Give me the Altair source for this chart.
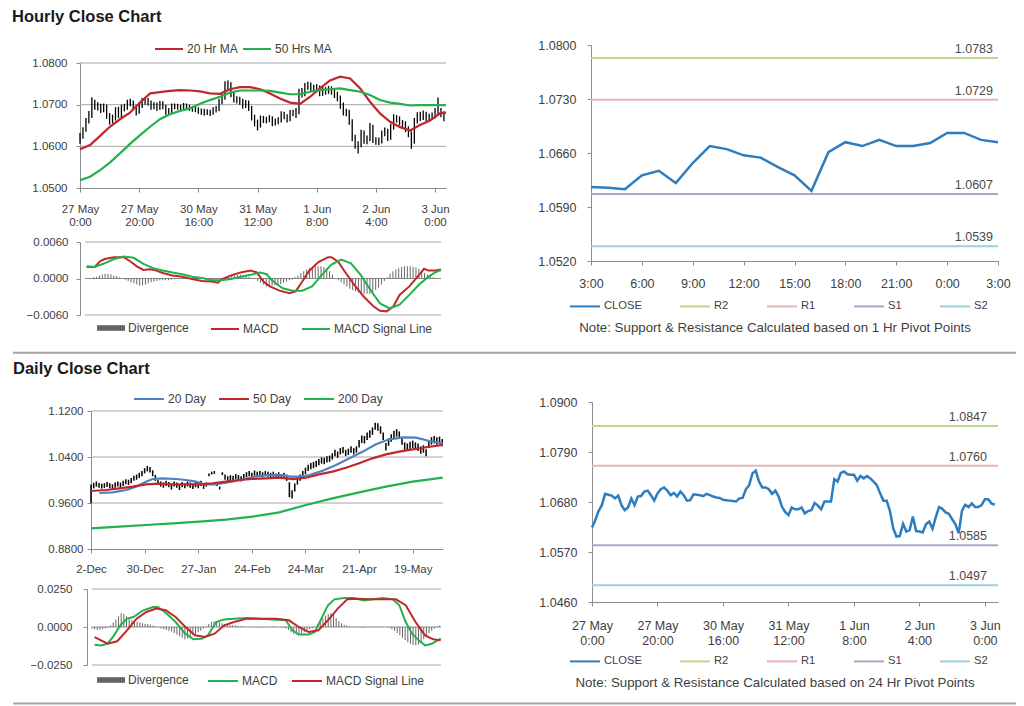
import json
import altair as alt
import pandas as pd

FONT = "Liberation Sans"
TXT = "#404040"
AXC = "#8c8c8c"
GRID = "#a6a6a6"
RED = "#c0272d"
GREEN = "#22b14c"
BLUE = "#4f81bd"
LINE_BLUE = "#2e7dbf"
R2_C, R1_C, S1_C, S2_C = "#bcd58f", "#e8b4b4", "#b3a2c7", "#9ad0df"
DIV_C = "#666666"
SEP_C = "#a5a5a5"
DIV_SHAPE = "M-1,-0.2H1V0.2H-1Z"

W, H = 1008, 697

# ---------------- hourly data (27 May 0:00 -> 3 Jun 3:00) ----------------
hourly_close = [
    1.0624, 1.0640, 1.0660, 1.0673, 1.0698, 1.0696, 1.0694, 1.0688, 1.0694, 1.0673,
    1.0662, 1.0668, 1.0688, 1.0673, 1.0692, 1.0693, 1.0703, 1.0705, 1.0695, 1.0683,
    1.0699, 1.0708, 1.0712, 1.0705, 1.0695, 1.0700, 1.0692, 1.0703, 1.0695, 1.0683,
    1.0684, 1.0697, 1.0696, 1.0695, 1.0693, 1.0698, 1.0695, 1.0692, 1.0690, 1.0689,
    1.0685, 1.0684, 1.0683, 1.0682, 1.0681, 1.0688, 1.0689, 1.0708, 1.0717, 1.0743,
    1.0749, 1.0725, 1.0712, 1.0712, 1.0708, 1.0698, 1.0705, 1.0692, 1.0670, 1.0658,
    1.0651, 1.0668, 1.0664, 1.0664, 1.0668, 1.0655, 1.0660, 1.0662, 1.0678, 1.0672,
    1.0664, 1.0681, 1.0681, 1.0681, 1.0730, 1.0725, 1.0744, 1.0747, 1.0741, 1.0740,
    1.0740, 1.0727, 1.0737, 1.0732, 1.0737, 1.0732, 1.0725, 1.0717, 1.0699, 1.0683,
    1.0683, 1.0660, 1.0622, 1.0604, 1.0605, 1.0632, 1.0615, 1.0618, 1.0648, 1.0616,
    1.0615, 1.0613, 1.0631, 1.0637, 1.0621, 1.0647, 1.0669, 1.0665, 1.0657, 1.0654,
    1.0642, 1.0631, 1.0611, 1.0661, 1.0674, 1.0669, 1.0677, 1.0669, 1.0669, 1.0673,
    1.0686, 1.0686, 1.0677, 1.0674,
]
hourly_low = [
    1.0606, 1.0618, 1.0635, 1.0655, 1.0668, 1.0688, 1.0686, 1.0680, 1.0682, 1.0666,
    1.0652, 1.0655, 1.0662, 1.0668, 1.0668, 1.0684, 1.0688, 1.0696, 1.0689, 1.0674,
    1.0678, 1.0692, 1.0700, 1.0698, 1.0688, 1.0689, 1.0685, 1.0688, 1.0689, 1.0676,
    1.0677, 1.0680, 1.0689, 1.0688, 1.0686, 1.0688, 1.0689, 1.0685, 1.0683, 1.0682,
    1.0678, 1.0676, 1.0674, 1.0675, 1.0673, 1.0676, 1.0681, 1.0684, 1.0701, 1.0712,
    1.0733, 1.0718, 1.0705, 1.0703, 1.0700, 1.0690, 1.0692, 1.0685, 1.0662, 1.0648,
    1.0638, 1.0645, 1.0656, 1.0655, 1.0658, 1.0648, 1.0650, 1.0653, 1.0657, 1.0665,
    1.0657, 1.0660, 1.0672, 1.0668, 1.0677, 1.0717, 1.0720, 1.0736, 1.0733, 1.0731,
    1.0730, 1.0720, 1.0721, 1.0724, 1.0726, 1.0724, 1.0716, 1.0708, 1.0690, 1.0674,
    1.0672, 1.0652, 1.0612, 1.0594, 1.0583, 1.0598, 1.0606, 1.0605, 1.0612, 1.0608,
    1.0604, 1.0603, 1.0607, 1.0624, 1.0613, 1.0616, 1.0640, 1.0657, 1.0650, 1.0645,
    1.0634, 1.0622, 1.0594, 1.0606, 1.0655, 1.0661, 1.0663, 1.0661, 1.0660, 1.0664,
    1.0667, 1.0677, 1.0670, 1.0660,
]
hourly_high = [
    1.0632, 1.0646, 1.0668, 1.0685, 1.0718, 1.0712, 1.0706, 1.0702, 1.0703, 1.0700,
    1.0680, 1.0676, 1.0694, 1.0695, 1.0700, 1.0702, 1.0712, 1.0714, 1.0710, 1.0700,
    1.0706, 1.0716, 1.0718, 1.0716, 1.0710, 1.0706, 1.0705, 1.0709, 1.0708, 1.0700,
    1.0692, 1.0703, 1.0703, 1.0702, 1.0700, 1.0704, 1.0703, 1.0700, 1.0697, 1.0696,
    1.0694, 1.0691, 1.0690, 1.0689, 1.0688, 1.0694, 1.0697, 1.0714, 1.0728, 1.0756,
    1.0758, 1.0754, 1.0732, 1.0720, 1.0719, 1.0714, 1.0711, 1.0710, 1.0697, 1.0676,
    1.0664, 1.0674, 1.0673, 1.0671, 1.0675, 1.0672, 1.0667, 1.0670, 1.0684, 1.0683,
    1.0677, 1.0687, 1.0688, 1.0692, 1.0738, 1.0740, 1.0752, 1.0755, 1.0753, 1.0748,
    1.0749, 1.0746, 1.0744, 1.0742, 1.0745, 1.0744, 1.0738, 1.0731, 1.0722, 1.0705,
    1.0690, 1.0688, 1.0665, 1.0628, 1.0612, 1.0640, 1.0638, 1.0626, 1.0656, 1.0652,
    1.0622, 1.0621, 1.0638, 1.0645, 1.0642, 1.0654, 1.0677, 1.0675, 1.0672, 1.0663,
    1.0660, 1.0648, 1.0636, 1.0668, 1.0682, 1.0683, 1.0686, 1.0683, 1.0678, 1.0681,
    1.0692, 1.0717, 1.0692, 1.0684,
]
hr_tick_pos = [0, 20, 40, 60, 80, 100, 120]
hr_tick_day = ["27 May", "27 May", "30 May", "31 May", "1 Jun", "2 Jun", "3 Jun"]
hr_tick_time = ["0:00", "20:00", "16:00", "12:00", "8:00", "4:00", "0:00"]

ma_hr_x = [0, 3.4, 6.8, 10.1, 13.5, 16.9, 20.3, 23.7, 27.0, 30.4, 33.8, 37.2, 40.6,
           43.9, 47.3, 50.7, 54.1, 57.5, 60.9, 64.2, 67.6, 71.0, 74.4, 77.8, 81.1,
           84.5, 87.9, 91.3, 94.7, 98.0, 101.4, 104.8, 108.2, 111.6, 114.9, 118.3,
           121.7, 123.7]
ma20_hr = [1.0593, 1.0603, 1.0625, 1.0647, 1.0665, 1.0681, 1.0705, 1.0727, 1.0730,
           1.0733, 1.0735, 1.0734, 1.0732, 1.0727, 1.0726, 1.0737, 1.0742, 1.0742,
           1.0737, 1.0727, 1.0715, 1.0705, 1.0702, 1.0719, 1.0739, 1.0758, 1.0767,
           1.0763, 1.0739, 1.0707, 1.0679, 1.0659, 1.0646, 1.0638, 1.0651, 1.0662,
           1.0679, 1.0681]
ma50_hr = [1.0519, 1.0527, 1.0543, 1.0561, 1.0583, 1.0606, 1.0627, 1.0647, 1.0665,
           1.0677, 1.0685, 1.0691, 1.0702, 1.0711, 1.0719, 1.0729, 1.0734, 1.0734,
           1.0734, 1.0733, 1.0729, 1.0725, 1.0725, 1.0731, 1.0735, 1.0737, 1.0739,
           1.0735, 1.0731, 1.0723, 1.0711, 1.0705, 1.0702, 1.0698, 1.0699, 1.0699,
           1.0699, 1.0699]

macd_hr_x = [0.6, 3.4, 5.1, 6.8, 10.1, 13.5, 15.8, 18.0, 20.3, 22.5, 24.8, 27.0, 30.4,
             33.8, 37.2, 40.6, 43.9, 46.2, 47.3, 50.7, 54.1, 57.5, 59.7, 62.0, 64.2,
             67.6, 71.0, 73.2, 75.5, 77.8, 81.1, 84.5, 85.6, 87.9, 90.2, 93.5, 96.9,
             100.3, 102.5, 104.8, 107.1, 109.3, 112.7, 116.1, 117.8, 119.4, 121.7, 123.7]
macd_hr = [0.0019, 0.0019, 0.0028, 0.0032, 0.0035, 0.0035, 0.0028, 0.0020, 0.0014,
           0.0015, 0.0013, 0.0009, 0.0005, 0.0003, -0.0001, -0.0004, -0.0005, -0.0007,
           -0.0002, 0.0005, 0.0010, 0.0013, 0.0010, -0.0005, -0.0013, -0.0020, -0.0024,
           -0.0021, -0.0005, 0.0012, 0.0027, 0.0035, 0.0035, 0.0028, 0.0012, -0.0010,
           -0.0030, -0.0046, -0.0053, -0.0054, -0.0046, -0.0027, -0.0013, 0.0006,
           0.0016, 0.0013, 0.0013, 0.0015]
signal_hr_x = [0.6, 3.4, 6.8, 10.1, 13.5, 16.9, 20.3, 23.7, 27.0, 30.4, 33.8, 37.2,
               40.6, 43.9, 47.3, 50.7, 54.1, 57.5, 60.9, 63.1, 65.4, 68.7, 72.1, 75.5,
               78.9, 82.3, 85.6, 89.0, 92.4, 95.8, 99.2, 102.5, 105.9, 109.3, 112.7,
               116.1, 119.4, 121.7, 123.7]
signal_hr = [0.0020, 0.0019, 0.0025, 0.0032, 0.0036, 0.0034, 0.0024, 0.0017, 0.0013,
             0.0010, 0.0007, 0.0003, 0.0001, -0.0003, -0.0003, -0.0001, 0.0003, 0.0006,
             0.0010, 0.0007, -0.0005, -0.0016, -0.0020, -0.0020, -0.0013, 0.0006,
             0.0023, 0.0031, 0.0025, 0.0006, -0.0019, -0.0041, -0.0049, -0.0043,
             -0.0027, -0.0010, 0.0003, 0.0010, 0.0014]
div_hr = [
    0.0000, 0.0000, 0.0001, 0.0002, 0.0003, 0.0005, 0.0007, 0.0008, 0.0008, 0.0007,
    0.0005, 0.0004, 0.0002, 0.0000, -0.0002, -0.0004, -0.0006, -0.0008, -0.0010, -0.0012,
    -0.0011, -0.0010, -0.0008, -0.0006, -0.0005, -0.0004, -0.0003, -0.0003, -0.0003, -0.0003,
    -0.0002, -0.0001, 0.0000, 0.0001, 0.0001, 0.0001, 0.0000, -0.0001, 0.0000, 0.0001,
    0.0000, -0.0001, -0.0002, -0.0003, -0.0003, -0.0003, -0.0002, 0.0000, 0.0001, 0.0003,
    0.0004, 0.0005, 0.0005, 0.0006, 0.0006, 0.0005, 0.0004, 0.0003, 0.0001, -0.0001,
    -0.0004, -0.0007, -0.0010, -0.0013, -0.0013, -0.0012, -0.0011, -0.0010, -0.0009, -0.0007,
    -0.0005, -0.0003, -0.0002, 0.0002, 0.0005, 0.0009, 0.0012, 0.0015, 0.0017, 0.0019,
    0.0020, 0.0020, 0.0020, 0.0019, 0.0017, 0.0012, 0.0006, 0.0001, -0.0003, -0.0006,
    -0.0010, -0.0013, -0.0017, -0.0019, -0.0021, -0.0023, -0.0024, -0.0025, -0.0025, -0.0025,
    -0.0023, -0.0019, -0.0015, -0.0010, -0.0004, 0.0002, 0.0008, 0.0012, 0.0015, 0.0017,
    0.0019, 0.0020, 0.0020, 0.0020, 0.0019, 0.0018, 0.0016, 0.0012, 0.0009, 0.0006,
    0.0004, 0.0002, 0.0001, 0.0000,
]

# 1 Hr pivot chart (last 25 hours) and levels
pivot_close = hourly_close[99:]
pivot_tick_pos = [0, 3, 6, 9, 12, 15, 18, 21, 24]
pivot_tick_lab = ["3:00", "6:00", "9:00", "12:00", "15:00", "18:00", "21:00", "0:00", "3:00"]
sr_names = ["R2", "R1", "S1", "S2"]
sr_hourly = [1.0783, 1.0729, 1.0607, 1.0539]
sr_daily = [1.0847, 1.0760, 1.0585, 1.0497]

# ---------------- daily data (2-Dec -> 3-Jun) ----------------
daily_low = [
    0.9595, 0.9855, 0.9885, 0.9865, 0.9850, 0.9860, 0.9880, 0.9860, 0.9840, 0.9865,
    0.9885, 0.9865, 0.9895, 0.9925, 0.9915, 0.9945, 0.9985, 1.0005, 1.0035, 1.0065,
    1.0115, 1.0150, 1.0130, 1.0065, 0.9985, 0.9915, 0.9885, 0.9865, 0.9895, 0.9875,
    0.9835, 0.9885, 0.9865, 0.9825, 0.9875, 0.9855, 0.9885, 0.9865, 0.9845, 0.9875,
    0.9855, 0.9895, 0.9845, 0.9885, 1.0065, 1.0095, 1.0105, 0.9895, 0.9835, 1.0085,
    1.0005, 0.9975, 0.9995, 0.9985, 1.0015, 0.9995, 0.9975, 1.0015, 1.0045, 1.0065,
    1.0035, 1.0075, 1.0055, 1.0065, 1.0045, 1.0065, 1.0055, 1.0035, 1.0055, 1.0025,
    1.0045, 1.0015, 1.0035, 0.9985, 0.9700, 0.9680, 0.9800, 0.9920, 0.9985, 1.0045,
    1.0105, 1.0155, 1.0185, 1.0205, 1.0225, 1.0255, 1.0285, 1.0275, 1.0305, 1.0315,
    1.0355, 1.0415, 1.0385, 1.0445, 1.0465, 1.0415, 1.0435, 1.0475, 1.0445, 1.0475,
    1.0565, 1.0645, 1.0635, 1.0695, 1.0735, 1.0785, 1.0875, 1.0855, 1.0805, 1.0695,
    1.0515, 1.0595, 1.0665, 1.0725, 1.0755, 1.0715, 1.0615, 1.0525, 1.0505, 1.0535,
    1.0555, 1.0525, 1.0505, 1.0455, 1.0475, 1.0415, 1.0555, 1.0615, 1.0635, 1.0615,
    1.0625, 1.0585,
]
daily_high = [
    0.9920, 0.9950, 0.9975, 0.9950, 0.9935, 0.9945, 0.9965, 0.9945, 0.9925, 0.9955,
    0.9975, 0.9955, 0.9985, 1.0015, 1.0005, 1.0035, 1.0075, 1.0095, 1.0125, 1.0155,
    1.0205, 1.0245, 1.0225, 1.0170, 1.0090, 1.0005, 0.9975, 0.9955, 0.9985, 0.9965,
    0.9925, 0.9975, 0.9955, 0.9915, 0.9965, 0.9945, 0.9975, 0.9955, 0.9935, 0.9965,
    0.9945, 0.9985, 0.9935, 0.9955, 1.0115, 1.0145, 1.0155, 0.9945, 0.9885, 1.0135,
    1.0095, 1.0065, 1.0085, 1.0075, 1.0105, 1.0085, 1.0065, 1.0105, 1.0135, 1.0155,
    1.0125, 1.0165, 1.0145, 1.0155, 1.0135, 1.0155, 1.0145, 1.0125, 1.0145, 1.0115,
    1.0135, 1.0105, 1.0125, 1.0095, 0.9960, 0.9820, 0.9940, 1.0040, 1.0095, 1.0155,
    1.0215, 1.0265, 1.0295, 1.0315, 1.0335, 1.0365, 1.0395, 1.0385, 1.0415, 1.0425,
    1.0465, 1.0525, 1.0495, 1.0555, 1.0575, 1.0525, 1.0545, 1.0585, 1.0555, 1.0585,
    1.0695, 1.0775, 1.0765, 1.0825, 1.0865, 1.0915, 1.0995, 1.0985, 1.0935, 1.0825,
    1.0645, 1.0725, 1.0795, 1.0855, 1.0885, 1.0845, 1.0745, 1.0655, 1.0635, 1.0665,
    1.0685, 1.0655, 1.0635, 1.0585, 1.0605, 1.0535, 1.0685, 1.0745, 1.0765, 1.0745,
    1.0755, 1.0715,
]
day_tick_pos = [0, 20, 40, 60, 80, 100, 120]
day_tick_lab = ["2-Dec", "30-Dec", "27-Jan", "24-Feb", "24-Mar", "21-Apr", "19-May"]

ma20_d_x = [3.1, 8.1, 13.1, 16.8, 20.5, 23.0, 26.7, 31.7, 35.4, 39.2, 42.3, 46.0, 51.0,
            56.0, 61.0, 66.0, 71.0, 74.4, 77.7, 81.5, 86.4, 91.4, 96.4, 101.4, 106.3,
            111.3, 116.3, 121.3, 126.2, 131.2]
ma20_d = [0.9774, 0.9786, 0.9826, 0.9884, 0.9971, 1.0017, 1.0029, 1.0017, 1.0000,
          0.9971, 0.9925, 0.9925, 0.9960, 1.0000, 1.0058, 1.0087, 1.0087, 1.0058,
          1.0058, 1.0087, 1.0162, 1.0261, 1.0377, 1.0494, 1.0621, 1.0708, 1.0742,
          1.0736, 1.0678, 1.0638]
ma50_d_x = [0, 5.6, 10.6, 15.5, 20.5, 25.5, 30.5, 35.4, 40.4, 45.3, 50.4, 55.3, 60.2,
            65.2, 70.2, 75.2, 80.2, 85.1, 90.1, 95.1, 100.0, 105.0, 110.0, 115.0, 120.0,
            125.0, 131.2]
ma50_d = [0.9809, 0.9826, 0.9855, 0.9884, 0.9925, 0.9936, 0.9925, 0.9925, 0.9925,
          0.9942, 0.9971, 1.0000, 1.0017, 1.0029, 1.0040, 1.0017, 1.0040, 1.0098,
          1.0145, 1.0214, 1.0290, 1.0377, 1.0446, 1.0494, 1.0534, 1.0569, 1.0610]
ma200_d_x = [0, 10.6, 20.5, 30.5, 40.4, 50.4, 60.2, 70.2, 80.2, 90.1, 100.0, 110.0,
             120.0, 131.2]
ma200_d = [0.9159, 0.9188, 0.9217, 0.9246, 0.9275, 0.9310, 0.9362, 0.9438, 0.9565,
           0.9681, 0.9786, 0.9884, 0.9971, 1.0040]

macd_d_x = [1.0, 3.4, 5.9, 8.3, 10.7, 13.2, 15.6, 19.3, 23.0, 24.8, 27.8, 31.5, 35.2,
            38.2, 41.3, 43.7, 46.8, 49.8, 53.5, 58.4, 63.2, 68.1, 73.0, 75.5, 77.9,
            81.6, 84.0, 86.4, 88.9, 91.3, 95.0, 98.7, 102.3, 106.0, 109.6, 113.3, 115.8,
            118.2, 120.6, 123.1, 125.5, 128.0, 131.4]
macd_d = [-0.0116, -0.0121, -0.0110, -0.0055, 0.0011, 0.0055, 0.0066, 0.0110, 0.0132,
          0.0132, 0.0094, 0.0033, -0.0044, -0.0081, -0.0077, -0.0055, 0.0033, 0.0050,
          0.0055, 0.0059, 0.0055, 0.0050, 0.0044, -0.0022, -0.0050, -0.0050, -0.0033,
          0.0055, 0.0143, 0.0182, 0.0191, 0.0191, 0.0175, 0.0182, 0.0191, 0.0182,
          0.0143, 0.0033, -0.0044, -0.0088, -0.0121, -0.0110, -0.0077]
signal_d_x = [1.0, 3.4, 5.9, 9.5, 13.2, 16.8, 20.5, 24.2, 27.8, 31.5, 35.2, 38.8, 42.5,
              46.2, 49.8, 53.5, 58.4, 63.2, 69.4, 74.2, 77.9, 81.6, 85.3, 88.9, 92.6,
              96.2, 99.9, 104.8, 109.6, 114.5, 118.2, 121.9, 125.5, 128.6, 131.4]
signal_d = [-0.0066, -0.0088, -0.0110, -0.0094, -0.0022, 0.0055, 0.0099, 0.0121, 0.0110,
            0.0066, 0.0000, -0.0055, -0.0066, -0.0044, 0.0011, 0.0033, 0.0055, 0.0055,
            0.0055, 0.0044, 0.0000, -0.0033, -0.0022, 0.0044, 0.0121, 0.0182, 0.0186,
            0.0182, 0.0182, 0.0182, 0.0143, 0.0033, -0.0055, -0.0081, -0.0088]
div_d = [
    -0.0010, -0.0015, -0.0020, -0.0018, -0.0012, -0.0008, -0.0003, 0.0010, 0.0030, 0.0050,
    0.0070, 0.0090, 0.0085, 0.0070, 0.0055, 0.0045, 0.0040, 0.0035, 0.0030, 0.0025,
    0.0022, 0.0020, 0.0015, 0.0010, 0.0005, 0.0000, -0.0010, -0.0015, -0.0020, -0.0025,
    -0.0030, -0.0040, -0.0050, -0.0060, -0.0070, -0.0080, -0.0075, -0.0065, -0.0055, -0.0045,
    -0.0035, -0.0025, -0.0010, 0.0005, 0.0020, 0.0035, 0.0040, 0.0035, 0.0030, 0.0025,
    0.0020, 0.0018, 0.0015, 0.0012, 0.0010, 0.0008, 0.0005, 0.0003, 0.0002, 0.0000,
    -0.0002, -0.0003, -0.0002, -0.0002, -0.0003, -0.0002, 0.0000, 0.0002, 0.0003, 0.0002,
    0.0000, -0.0003, -0.0005, -0.0010, -0.0020, -0.0035, -0.0045, -0.0050, -0.0050, -0.0045,
    -0.0035, -0.0025, -0.0015, -0.0008, 0.0005, 0.0020, 0.0040, 0.0060, 0.0075, 0.0085,
    0.0090, 0.0080, 0.0060, 0.0040, 0.0025, 0.0015, 0.0010, 0.0005, 0.0003, 0.0002,
    0.0000, -0.0003, -0.0005, -0.0003, 0.0000, 0.0002, 0.0003, 0.0002, 0.0003, 0.0002,
    0.0000, -0.0002, -0.0005, -0.0015, -0.0025, -0.0040, -0.0055, -0.0070, -0.0085, -0.0100,
    -0.0110, -0.0118, -0.0120, -0.0115, -0.0100, -0.0080, -0.0060, -0.0040, -0.0025, -0.0010,
    0.0005, 0.0010,
]

# ---------------- helpers ----------------
def y_axis(vals, off, size, pad):
    return alt.Axis(orient="left", offset=off, values=vals, format=".4f", title=None,
                    grid=False, domainColor=AXC, tickColor=AXC, tickSize=4,
                    labelPadding=pad, labelFont=FONT, labelFontSize=size,
                    labelColor=TXT, labelOverlap=False, labelFlush=False)


def x_axis(vals, labels, off, size, pad, lh):
    expr = f"{json.dumps(labels)}[indexof({json.dumps(vals)}, datum.value)]"
    return alt.Axis(orient="bottom", offset=off, values=vals, labelExpr=expr, title=None,
                    grid=False, domainColor=AXC, tickColor=AXC, tickSize=4,
                    labelPadding=pad, labelFont=FONT, labelFontSize=size,
                    labelColor=TXT, labelOverlap=False, labelFlush=False,
                    labelLineHeight=lh, labelAlign="center")


def ex(P, field=None, datum=None):
    sc = alt.Scale(domain=P["xd"], range=P["xr"], nice=False, zero=False)
    if datum is not None:
        return alt.X(datum=datum, type="quantitative", scale=sc, axis=P["xa"])
    return alt.X(field, type="quantitative", scale=sc, axis=P["xa"])


def ey(P, field):
    sc = alt.Scale(domain=P["yd"], range=P["yr"], nice=False, zero=False)
    return alt.Y(field, type="quantitative", scale=sc, axis=P["ya"])


def grid_layer(P, vals, color=GRID):
    df = pd.DataFrame({"g": vals})
    return alt.Chart(df).mark_rule(color=color, strokeWidth=1).encode(
        x=ex(P, datum=P["xd"][0]), x2=alt.X2(datum=P["xd"][1]), y=ey(P, "g"))


def leg(x, y, size=12, sym=784, pad=10, shape="stroke", sw=2.0, off=3):
    return alt.Legend(orient="none", legendX=x, legendY=y, direction="horizontal",
                      title=None, symbolType=shape, symbolSize=sym,
                      symbolStrokeWidth=sw, labelFont=FONT, labelFontSize=size,
                      labelColor=TXT, labelOffset=off, columnPadding=pad, padding=0)


def txt(s, x, y, size, weight="normal", align="left", color=TXT):
    return alt.Chart(alt.Data(values=[{"t": s}])).mark_text(
        font=FONT, fontSize=size, fontWeight=weight, align=align, baseline="middle",
        color=color).encode(x=alt.value(x), y=alt.value(y), text="t:N")


def sep(y):
    return alt.Chart(alt.Data(values=[{"a": 1}])).mark_rule(
        color=SEP_C, strokeWidth=2).encode(x=alt.value(5), x2=alt.value(W), y=alt.value(y))


hr_labels = [[d, t] for d, t in zip(hr_tick_day, hr_tick_time)]

P1 = dict(xd=[0, 123.7], xr=[72, 438], yd=[1.05, 1.08], yr=[180, 55],
          xa=x_axis(hr_tick_pos, hr_labels, -(H - 180), 11.5, 11, 13.5),
          ya=y_axis([1.05, 1.06, 1.07, 1.08], -72, 11.5, 9))
P2 = dict(xd=[0, 123.7], xr=[72, 438], yd=[-0.006, 0.006], yr=[307, 234],
          xa=None, ya=y_axis([-0.006, 0.0, 0.006], -72, 11.5, 8))
P3 = dict(xd=[0, 24], xr=[583, 990], yd=[1.052, 1.080], yr=[253, 37],
          xa=x_axis(pivot_tick_pos, pivot_tick_lab, -(H - 253), 12.5, 12, 15),
          ya=y_axis([1.052, 1.059, 1.066, 1.073, 1.080], -583, 12.5, 11))
P4 = dict(xd=[0, 131.3], xr=[83, 435], yd=[0.88, 1.12], yr=[541, 403],
          xa=x_axis(day_tick_pos, day_tick_lab, -(H - 541), 11.5, 10, 14),
          ya=y_axis([0.88, 0.96, 1.04, 1.12], -83, 11.5, 4))
P5 = dict(xd=[0, 131.5], xr=[79, 438], yd=[-0.025, 0.025], yr=[657, 581],
          xa=None, ya=y_axis([-0.025, 0.0, 0.025], -79, 11.5, 11))
P6 = dict(xd=[0, 124], xr=[584, 990], yd=[1.046, 1.090], yr=[594, 394],
          xa=x_axis(hr_tick_pos, hr_labels, -(H - 594), 12.5, 13, 15),
          ya=y_axis([1.046, 1.057, 1.068, 1.079, 1.090], -584, 12.5, 11))

# ---------------- panel 1: hourly candles + MAs ----------------
hr_df = pd.DataFrame({"bar": list(range(len(hourly_close))), "low": hourly_low,
                      "high": hourly_high, "close": hourly_close})
ma_hr_df = pd.DataFrame({"bar": ma_hr_x + ma_hr_x, "v": ma20_hr + ma50_hr,
                         "name": ["20 Hr MA"] * len(ma_hr_x) + ["50 Hrs MA"] * len(ma_hr_x)})
p1 = alt.layer(
    grid_layer(P1, [1.06, 1.07, 1.08]),
    alt.Chart(hr_df).mark_rule(color="black", strokeWidth=1.3).encode(
        x=ex(P1, "bar"), y=ey(P1, "low"), y2="high"),
    alt.Chart(ma_hr_df).mark_line(strokeWidth=2.2).encode(
        x=ex(P1, "bar"), y=ey(P1, "v"),
        color=alt.Color("name:N", scale=alt.Scale(domain=["20 Hr MA", "50 Hrs MA"],
                                                  range=[RED, GREEN]),
                        legend=leg(146, 26, pad=1))),
)

# ---------------- panel 2: hourly MACD ----------------
div_hr_df = pd.DataFrame({"bar": list(range(len(div_hr))), "d": div_hr, "dname": "Divergence"})
macd_hr_df = pd.DataFrame({"bar": macd_hr_x + signal_hr_x, "v": macd_hr + signal_hr,
                           "name": ["MACD"] * len(macd_hr_x) + ["MACD Signal Line"] * len(signal_hr_x)})
p2 = alt.layer(
    grid_layer(P2, [0.006, -0.006]),
    grid_layer(P2, [0.0], AXC),
    alt.Chart(div_hr_df).mark_bar(size=1).encode(
        x=ex(P2, "bar"), y=ey(P2, "d"), y2=alt.Y2(datum=0),
        fill=alt.Fill("dname:N", scale=alt.Scale(domain=["Divergence"], range=[DIV_C]),
                      legend=leg(89, 306, shape=DIV_SHAPE, sw=0))),
    alt.Chart(macd_hr_df).mark_line(strokeWidth=2).encode(
        x=ex(P2, "bar"), y=ey(P2, "v"),
        color=alt.Color("name:N", scale=alt.Scale(domain=["MACD", "MACD Signal Line"],
                                                  range=[RED, GREEN]),
                        legend=leg(202, 306, pad=19))),
)


# ---------------- panels 3 & 6: close with pivot levels ----------------
def pivot_panel(P, closes, levels, xmax, lx, ly, dx):
    cdf = pd.DataFrame({"h": list(range(len(closes))), "v": closes, "name": "CLOSE"})
    sdf = pd.DataFrame({"name": sr_names, "v": levels})
    col = alt.Color("name:N", scale=alt.Scale(domain=["CLOSE"] + sr_names,
                                              range=[LINE_BLUE, R2_C, R1_C, S1_C, S2_C]),
                    legend=leg(lx, ly, size=11.2, sym=900, pad=34, off=3))
    return alt.layer(
        alt.Chart(sdf).mark_rule(strokeWidth=2).encode(
            x=ex(P, datum=0), x2=alt.X2(datum=xmax), y=ey(P, "v"), color=col),
        alt.Chart(sdf).mark_text(font=FONT, fontSize=12.5, align="right", baseline="middle",
                                 dx=dx, dy=-9, color="#4a4a4a").encode(
            x=ex(P, datum=xmax), y=ey(P, "v"), text=alt.Text("v:Q", format=".4f")),
        alt.Chart(cdf).mark_line(strokeWidth=2.5).encode(
            x=ex(P, "h"), y=ey(P, "v"), color=col),
    )


p3 = pivot_panel(P3, pivot_close, sr_hourly, 24, 561, 282, -5)
p6 = pivot_panel(P6, hourly_close, sr_daily, 124, 561, 637, -11)

# ---------------- panel 4: daily candles + MAs ----------------
d_df = pd.DataFrame({"bar": list(range(len(daily_low))), "low": daily_low, "high": daily_high})
ma_d_df = pd.DataFrame({
    "bar": ma20_d_x + ma50_d_x + ma200_d_x,
    "v": ma20_d + ma50_d + ma200_d,
    "name": ["20 Day"] * len(ma20_d_x) + ["50 Day"] * len(ma50_d_x) + ["200 Day"] * len(ma200_d_x)})
p4 = alt.layer(
    grid_layer(P4, [0.96, 1.04, 1.12]),
    alt.Chart(d_df).mark_rule(color="black", strokeWidth=1.5).encode(
        x=ex(P4, "bar"), y=ey(P4, "low"), y2="high"),
    alt.Chart(ma_d_df).mark_line(strokeWidth=2.2).encode(
        x=ex(P4, "bar"), y=ey(P4, "v"),
        color=alt.Color("name:N", scale=alt.Scale(domain=["20 Day", "50 Day", "200 Day"],
                                                  range=[BLUE, RED, GREEN]),
                        legend=leg(125, 375, sym=900, pad=8))),
)

# ---------------- panel 5: daily MACD ----------------
div_d_df = pd.DataFrame({"bar": list(range(len(div_d))), "d": div_d, "dname": "Divergence"})
macd_d_df = pd.DataFrame({"bar": macd_d_x + signal_d_x, "v": macd_d + signal_d,
                          "name": ["MACD"] * len(macd_d_x) + ["MACD Signal Line"] * len(signal_d_x)})
p5 = alt.layer(
    grid_layer(P5, [0.025, -0.025]),
    grid_layer(P5, [0.0], AXC),
    alt.Chart(div_d_df).mark_bar(size=1).encode(
        x=ex(P5, "bar"), y=ey(P5, "d"), y2=alt.Y2(datum=0),
        fill=alt.Fill("dname:N", scale=alt.Scale(domain=["Divergence"], range=[DIV_C]),
                      legend=leg(89, 658, shape=DIV_SHAPE, sw=0))),
    alt.Chart(macd_d_df).mark_line(strokeWidth=2).encode(
        x=ex(P5, "bar"), y=ey(P5, "v"),
        color=alt.Color("name:N", scale=alt.Scale(domain=["MACD", "MACD Signal Line"],
                                                  range=[GREEN, RED]),
                        legend=leg(199, 657, sym=900, pad=10))),
)

decor = [
    txt("Hourly Close Chart", 4, 9, 16.5, weight="bold", color="#1a1a1a"),
    txt("Daily Close Chart", 5, 361, 16.5, weight="bold", color="#1a1a1a"),
    txt("Note: Support & Resistance Calculated based on 1 Hr Pivot Points", 767, 320, 13.3,
        align="center"),
    txt("Note: Support & Resistance Calculated based on 24 Hr Pivot Points", 767, 675, 13.3,
        align="center"),
    sep(344.7),
    sep(695.5),
]

chart = alt.layer(p1, p2, p3, p4, p5, p6, *decor).resolve_scale(
    x="independent", y="independent", color="independent", fill="independent"
).resolve_axis(x="independent", y="independent").resolve_legend(
    color="independent", fill="independent"
).properties(
    width=W, height=H, autosize=alt.AutoSizeParams(type="none"), padding=0
).configure_view(strokeWidth=0)

chart.save("out.html", embed_options={"renderer": "svg", "actions": False})
